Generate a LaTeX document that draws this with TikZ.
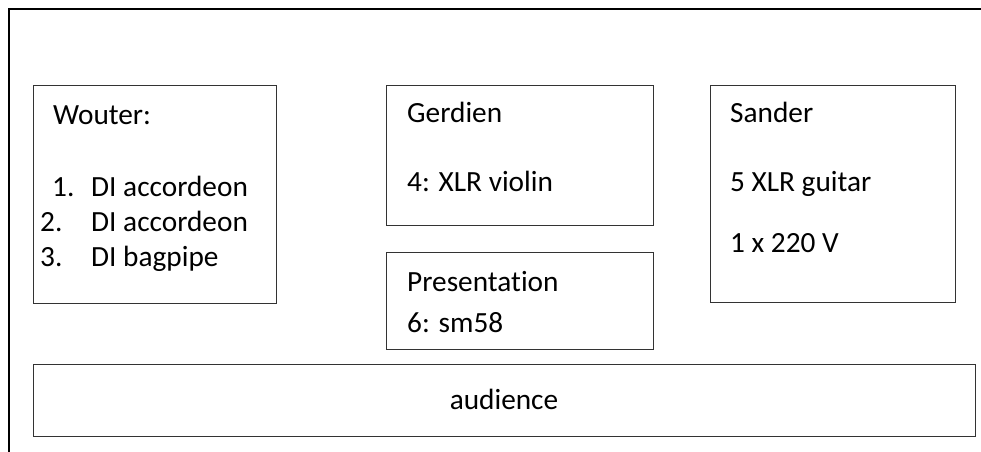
\documentclass[tikz,border=0pt]{standalone}
\usepackage{fontspec}
\setmainfont{Carlito}[Ligatures=NoCommon]
\begin{document}
\begin{tikzpicture}[x=1pt,y=-1pt,
  stagebox/.style={draw=black!80,line width=1.3pt,inner sep=0pt,anchor=north west},
  lbl/.style={anchor=base west,inner sep=0pt,font=\fontsize{29.3}{35}\selectfont},
  clbl/.style={anchor=base,inner sep=0pt,font=\fontsize{29.3}{35}\selectfont}]
\useasboundingbox (0,0) rectangle (981,451);
% outer frame
\coordinate (fa) at (9,451);
\coordinate (fb) at (9,9);
\coordinate (fc) at (981,9);
\draw[line width=2pt,line cap=rect] (fa) -- (fb) -- (fc);
% boxes
\node[stagebox,minimum width=243pt,minimum height=218pt] (wouter) at (33,85) {};
\node[stagebox,minimum width=267pt,minimum height=140pt] (gerdien) at (386,85) {};
\node[stagebox,minimum width=267pt,minimum height=97pt] (pres) at (386,252) {};
\node[stagebox,minimum width=245pt,minimum height=217pt] (sander) at (710,85) {};
\node[stagebox,minimum width=942pt,minimum height=72pt] (aud) at (33,364) {};
% texts
\node[lbl] (t1) at (53,124) {Wouter:};
\node[lbl] (t2) at (52,196) {1.};
\node[lbl] (t3) at (91,196) {DI accordeon};
\node[lbl] (t4) at (40,231) {2.};
\node[lbl] (t5) at (91,231) {DI accordeon};
\node[lbl] (t6) at (40,266) {3.};
\node[lbl] (t7) at (91,266) {DI bagpipe};
\node[lbl] (g1) at (407,122) {Gerdien};
\node[lbl] (g2) at (407,191) {4: XLR violin};
\node[lbl] (p1) at (407,291) {Presentation};
\node[lbl] (p2) at (407,332) {6: sm58};
\node[lbl] (s1) at (730,122) {Sander};
\node[lbl] (s2) at (730,191) {5 XLR guitar};
\node[lbl] (s3) at (730,252) {1 x 220 V};
\node[clbl] (a1) at (504,409) {audience};
\end{tikzpicture}
\end{document}
